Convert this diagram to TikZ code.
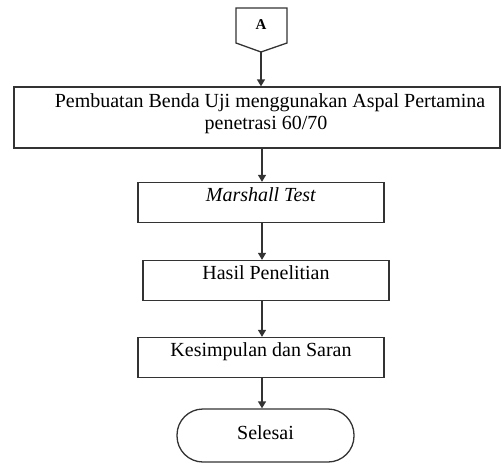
\documentclass[tikz,border=0pt]{standalone}
\usepackage{fontspec}
\setmainfont{Liberation Serif}
\usetikzlibrary{arrows.meta}
\begin{document}
\begin{tikzpicture}[x=1pt, y=-1pt, line width=1.3pt, draw=black!80,
    every node/.style={font=\fontsize{20}{22}\selectfont, inner sep=0pt},
    box/.style={draw=black!80, rectangle, minimum width=246pt, minimum height=40pt, text height=14pt, text depth=17pt},
    ends/.style={draw=black!80, rectangle, rounded corners=26pt, minimum width=177pt, minimum height=53pt, text height=14pt, text depth=7pt},
    flow/.style={draw=black!80, -{Triangle[length=7pt, width=8pt]}}]
      \useasboundingbox (0,0) rectangle (502,463);

      % off-page connector
      \draw (236,8) -- (287,8) -- (287,43) -- (261,52) -- (236,43) -- cycle;
      \node[font=\fontsize{15}{17}\selectfont\bfseries] (A) at (261,25) {A};
      \coordinate (Atip) at (261,52);
      \coordinate (spine) at (262,0);

      \node[box, minimum width=486pt, minimum height=61pt, text height=, text depth=11pt, align=center] (buat) at (257,117.5)
        {\hspace*{26pt}Pembuatan Benda Uji menggunakan Aspal Pertamina\\\hspace*{18pt}penetrasi 60/70};
      \node[box] (marshall) at (261,202.5) {\textit{Marshall Test}};
      \node[box] (hasil) at (266,280.5) {Hasil Penelitian};
      \node[box] (simpul) at (261,357.5) {Kesimpulan dan Saran};
      \node[ends] (selesai) at (265.5,435.5) {Selesai};

      \draw[flow] (Atip) -- (buat.north -| Atip);
      \draw[flow] (buat.south -| spine) -- (marshall.north -| spine);
      \draw[flow] (marshall.south -| spine) -- (hasil.north -| spine);
      \draw[flow] (hasil.south -| spine) -- (simpul.north -| spine);
      \draw[flow] (simpul.south -| spine) -- (selesai.north -| spine);
\end{tikzpicture}
\end{document}
